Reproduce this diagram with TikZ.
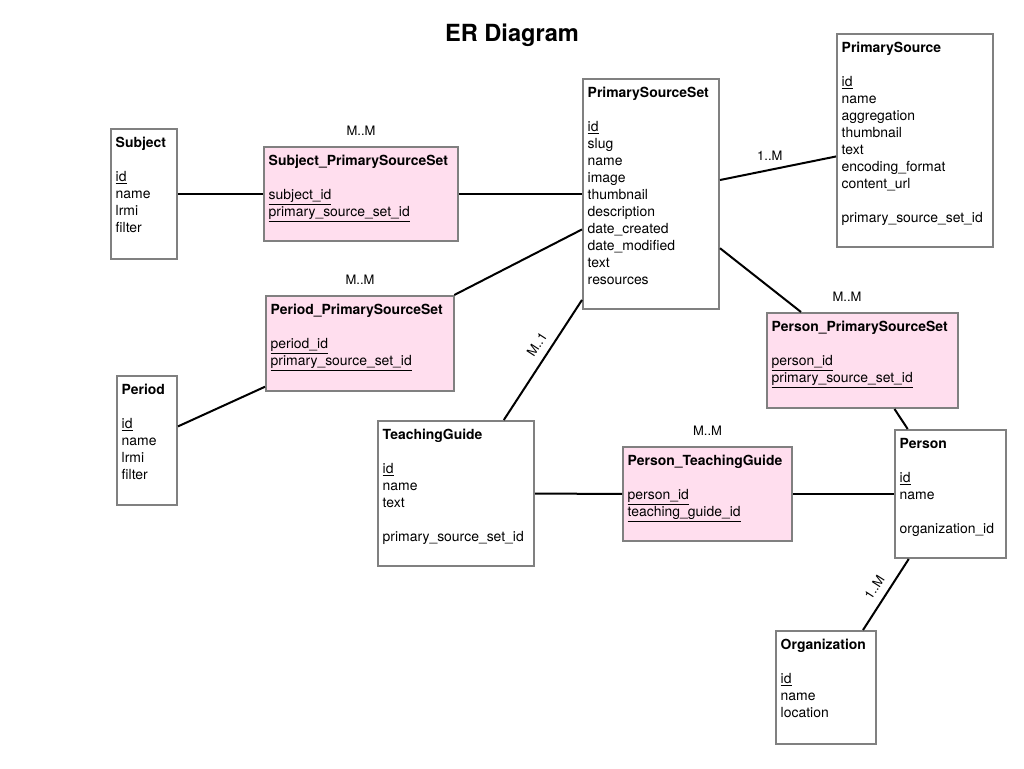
\documentclass[tikz,border=0pt]{standalone}
\usepackage{fontspec}
\setmainfont{TeX Gyre Heros}
\definecolor{boxgray}{RGB}{128,128,128}
\definecolor{linkpink}{RGB}{255,222,238}
\tikzset{
  entity/.style 2 args={draw=boxgray, line width=1.5pt, minimum width=#1*0.75pt, minimum height=#2*0.75pt, inner sep=0pt},
  junction/.style 2 args={entity={#1}{#2}, fill=linkpink},
  fields/.style={anchor=north west, inner sep=0pt, align=left, xshift=4.1pt, yshift=-6.5pt, font=\fontsize{10.45}{12.75}\selectfont},
  card/.style={font=\fontsize{9.75}{12}\selectfont, inner sep=1pt},
  cardtop/.style={card, yshift=7pt},
  link/.style={line width=1.5pt}
}
\begin{document}
\begin{tikzpicture}[x=0.75pt, y=-0.75pt]
  \useasboundingbox (0,0) rectangle (1024,768);
  \node[font=\bfseries\fontsize{17.7}{20}\selectfont] (title) at (512,35) {ER Diagram};

  % tables
  \node[entity={66}{130}, label={[fields]north west:{\textbf{Subject}\\[12.75pt]\underline{id}\\name\\lrmi\\filter}}] (subject) at (144,194) {};
  \node[entity={60}{129}, label={[fields]north west:{\textbf{Period}\\[12.75pt]\underline{id}\\name\\lrmi\\filter}}] (period) at (147,440.5) {};
  \node[entity={136}{230}, label={[fields]north west:{\textbf{PrimarySourceSet}\\[12.75pt]\underline{id}\\slug\\name\\image\\thumbnail\\description\\date\_created\\date\_modified\\text\\resources}}] (sourceset) at (651,194) {};
  \node[entity={156}{213}, label={[fields]north west:{\textbf{PrimarySource}\\[12.75pt]\underline{id}\\name\\aggregation\\thumbnail\\text\\encoding\_format\\content\_url\\[12.75pt]primary\_source\_set\_id}}] (source) at (915,140.5) {};
  \node[entity={156}{145}, label={[fields]north west:{\textbf{TeachingGuide}\\[12.75pt]\underline{id}\\name\\text\\[12.75pt]primary\_source\_set\_id}}] (guide) at (456,493.5) {};
  \node[entity={111}{128}, label={[fields]north west:{\textbf{Person}\\[12.75pt]\underline{id}\\name\\[12.75pt]organization\_id}}] (person) at (950.5,494) {};
  \node[entity={100}{113}, label={[fields]north west:{\textbf{Organization}\\[12.75pt]\underline{id}\\name\\location}}] (org) at (826,687.5) {};

  % join tables
  \node[junction={194}{94}, label={[fields]north west:{\textbf{Subject\_PrimarySourceSet}\\[12.75pt]\underline{subject\_id}\\\underline{primary\_source\_set\_id}}}, label={[cardtop]above:M..M}] (subjectset) at (361,194) {};
  \node[junction={188}{95}, label={[fields]north west:{\textbf{Period\_PrimarySourceSet}\\[12.75pt]\underline{period\_id}\\\underline{primary\_source\_set\_id}}}, label={[cardtop]above:M..M}] (periodset) at (360,343.5) {};
  \node[junction={191}{95}, label={[fields]north west:{\textbf{Person\_PrimarySourceSet}\\[12.75pt]\underline{person\_id}\\\underline{primary\_source\_set\_id}}}, label={[cardtop, xshift=-11.6pt]above:M..M}] (personset) at (862.5,360.5) {};
  \node[junction={169}{94}, label={[fields]north west:{\textbf{Person\_TeachingGuide}\\[12.75pt]\underline{person\_id}\\\underline{teaching\_guide\_id}}}, label={[cardtop]above:M..M}] (persontg) at (707.5,494) {};

  % relations
  \draw[link] (subject) -- (subjectset);
  \draw[link] (subjectset) -- (sourceset);
  \draw[link] (sourceset) -- node[card, above=5pt, pos=0.43] {1..M} (source);
  \draw[link] (period) -- (periodset);
  \draw[link] (periodset) -- (sourceset);
  \draw[link] (guide) -- node[card, sloped, above=5pt, pos=0.57] {M..1} (sourceset);
  \draw[link] (sourceset) -- (personset);
  \draw[link] (personset) -- (person);
  \draw[link] (guide) -- (persontg);
  \draw[link] (persontg) -- (person);
  \draw[link] (org) -- node[card, sloped, above=5pt] {1..M} (person);
\end{tikzpicture}
\end{document}
